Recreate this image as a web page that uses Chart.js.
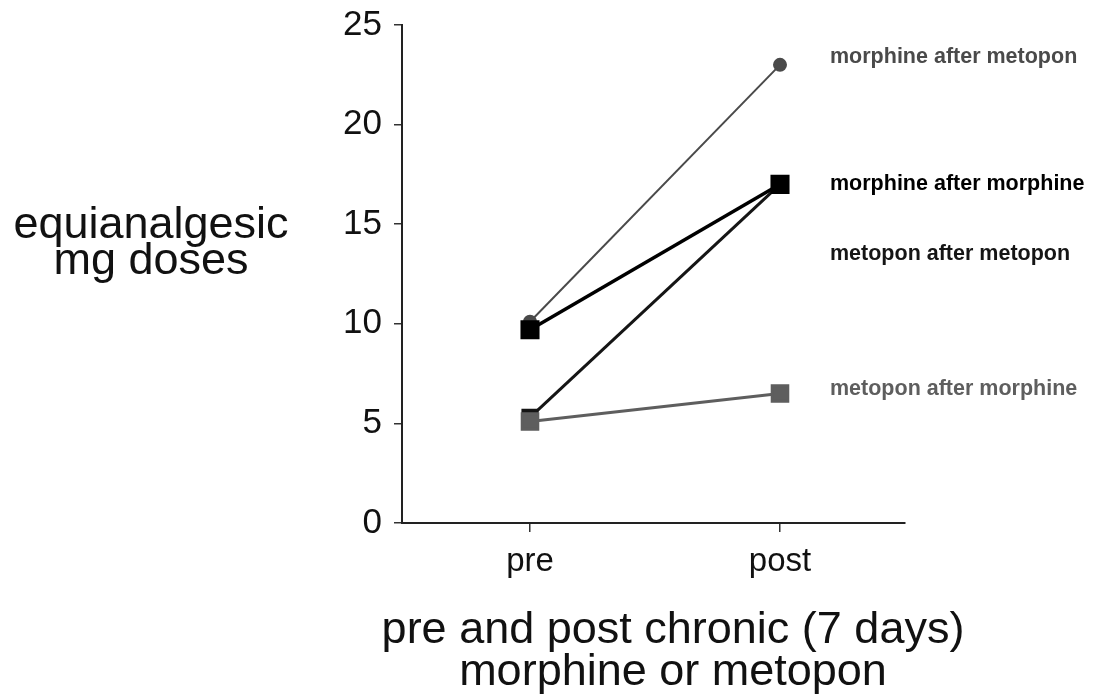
<!DOCTYPE html>
<html>
<head>
<meta charset="utf-8">
<script src="https://cdn.jsdelivr.net/npm/chart.js@4/dist/chart.umd.min.js"></script>
<style>
  html, body { margin: 0; padding: 0; background: #fff; }
  #wrap { width: 1093px; height: 698px; position: relative; }
</style>
</head>
<body>
<div id="wrap"><canvas id="chart" width="1093" height="698"></canvas></div>
<script>
// x positions for the two time points
var xLabels = ["pre", "post"];
var xPositions = [0, 1];
var yTicks = [0, 5, 10, 15, 20, 25];

// series (pre, post)
var seriesNames = ["morphine after metopon", "morphine after morphine", "metopon after metopon", "metopon after morphine"];
var morphineAfterMetopon = [10.1, 23];
var morphineAfterMorphine = [9.7, 17];
var metoponAfterMetopon = [5.3, 17];
var metoponAfterMorphine = [5.1, 6.5];

// where the right-hand labels sit, in data units
var labelX = 1.2;
var labelY = [23.4, 17, 13.5, 6.7];

var colors = ["#4a4a4a", "#000000", "#151515", "#5e5e5e"];
var lineWidths = [2, 3.5, 3, 3];

var FONT = "'Liberation Sans', Arial, Helvetica, sans-serif";

function pts(vals) {
  return vals.map(function (v, i) { return { x: xPositions[i], y: v }; });
}

var textPlugin = {
  id: "texts",
  afterDraw: function (chart) {
    var ctx = chart.ctx;
    var xs = chart.scales.x, ys = chart.scales.y;
    ctx.save();
    // series labels at right
    ctx.font = "bold 21.5px " + FONT;
    ctx.textBaseline = "middle";
    ctx.textAlign = "left";
    for (var i = 0; i < seriesNames.length; i++) {
      ctx.fillStyle = colors[i];
      ctx.fillText(seriesNames[i], xs.getPixelForValue(labelX), ys.getPixelForValue(labelY[i]));
    }
    // axis titles
    ctx.fillStyle = "#111";
    ctx.textAlign = "center";
    ctx.textBaseline = "alphabetic";
    ctx.font = "45px " + FONT;
    ctx.fillText("equianalgesic", 151, 238);
    ctx.fillText("mg doses", 151, 274);
    ctx.fillText("pre and post chronic (7 days)", 673, 643);
    ctx.fillText("morphine or metopon", 673, 685);
    ctx.restore();
  }
};

new Chart(document.getElementById("chart"), {
  type: "line",
  data: {
    datasets: [
      {
        label: seriesNames[0], data: pts(morphineAfterMetopon),
        borderColor: colors[0], backgroundColor: colors[0], borderWidth: lineWidths[0],
        pointStyle: "circle", pointRadius: 6, order: 3
      },
      {
        label: seriesNames[1], data: pts(morphineAfterMorphine),
        borderColor: colors[1], backgroundColor: colors[1], borderWidth: lineWidths[1],
        pointStyle: "rect", pointRadius: 11, order: 1
      },
      {
        label: seriesNames[2], data: pts(metoponAfterMetopon),
        borderColor: colors[2], backgroundColor: colors[2], borderWidth: lineWidths[2],
        pointStyle: "rect", pointRadius: 10, order: 2
      },
      {
        label: seriesNames[3], data: pts(metoponAfterMorphine),
        borderColor: colors[3], backgroundColor: colors[3], borderWidth: lineWidths[3],
        pointStyle: "rect", pointRadius: 11, order: 0
      }
    ]
  },
  options: {
    responsive: false,
    animation: false,
    layout: { padding: { left: 0, right: 188, top: 25, bottom: 0 } },
    plugins: { legend: { display: false }, tooltip: { enabled: false } },
    elements: { line: { tension: 0 }, point: { borderWidth: 0 } },
    scales: {
      x: {
        type: "linear", min: -0.512, max: 1.5,
        afterBuildTicks: function (scale) {
          scale.ticks = xPositions.map(function (v) { return { value: v }; });
        },
        afterFit: function (scale) {
          scale.height = 175;
          scale.paddingLeft = 0; scale.paddingRight = 0;
        },
        grid: { drawOnChartArea: false, drawTicks: true, tickLength: 9, color: "#333", lineWidth: 1.5 },
        border: { display: true, color: "#222", width: 2 },
        ticks: {
          color: "#111", padding: 10,
          font: { family: FONT, size: 33 },
          callback: function (v) {
            var i = xPositions.indexOf(v);
            return i >= 0 ? xLabels[i] : "";
          }
        }
      },
      y: {
        type: "linear", min: 0, max: 25,
        afterBuildTicks: function (scale) {
          scale.ticks = yTicks.map(function (v) { return { value: v }; });
        },
        afterFit: function (scale) {
          scale.width = 402;
          scale.paddingTop = 0; scale.paddingBottom = 0;
        },
        grid: { drawOnChartArea: false, drawTicks: true, tickLength: 8, color: "#333", lineWidth: 1.5 },
        border: { display: true, color: "#222", width: 2 },
        ticks: {
          color: "#111", padding: 12,
          font: { family: FONT, size: 35 }
        }
      }
    }
  },
  plugins: [textPlugin]
});
</script>
</body>
</html>
